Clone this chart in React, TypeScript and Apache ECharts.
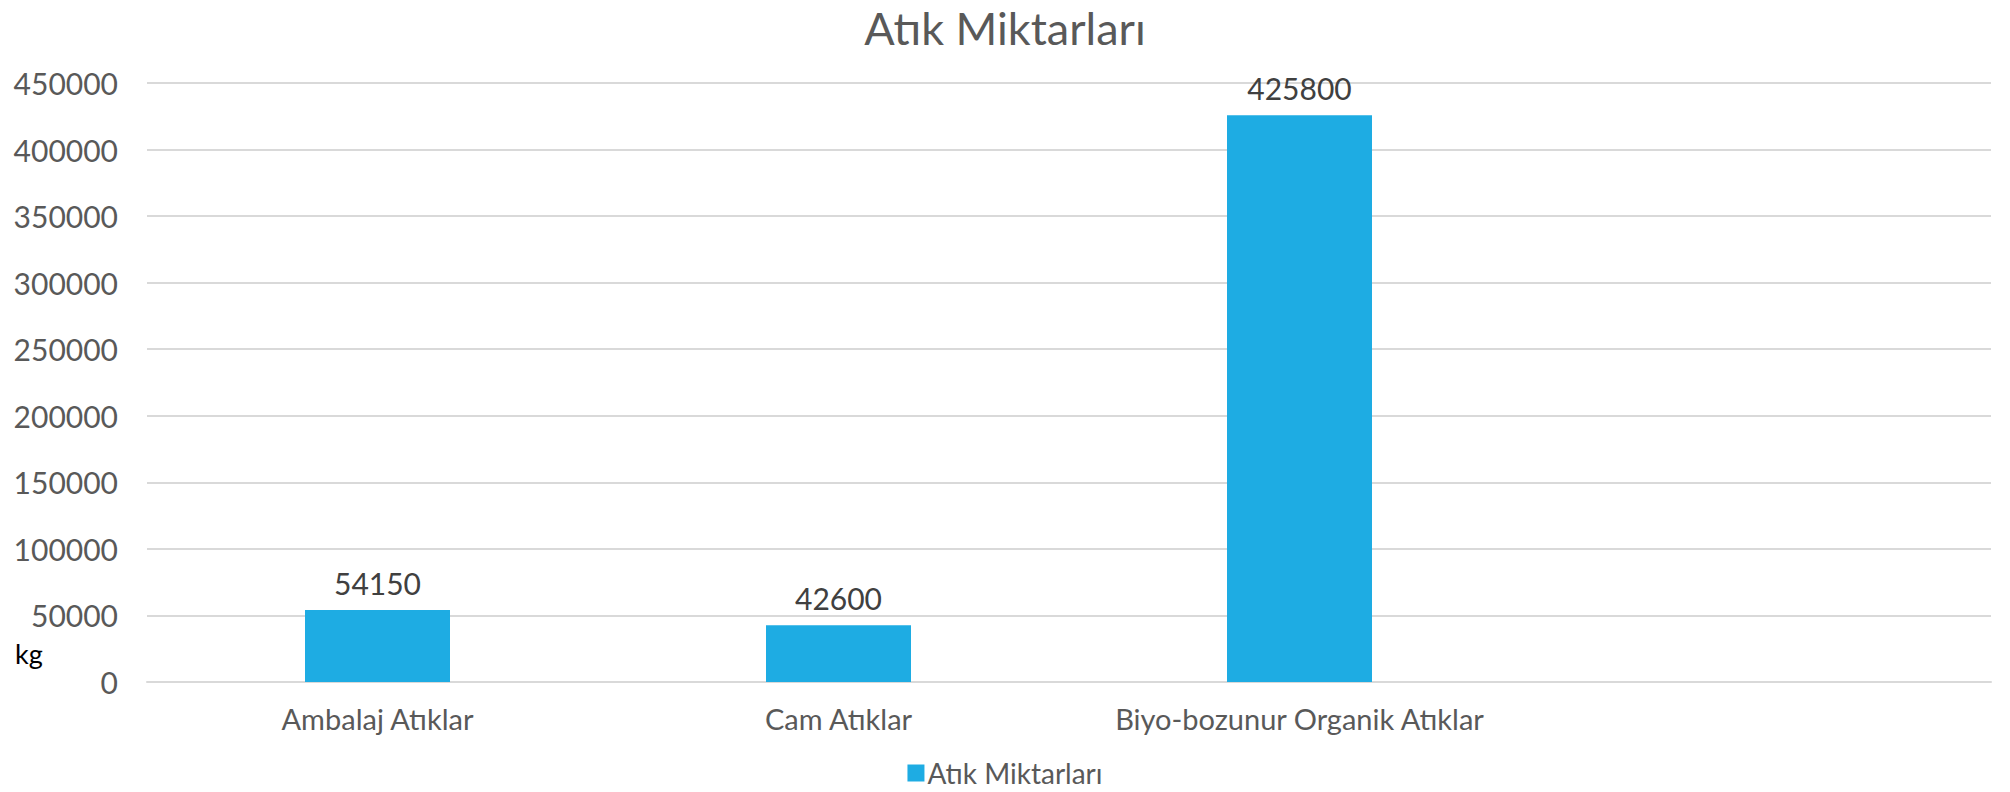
import React, { useEffect, useRef } from "react";
import * as echarts from "echarts";

const categories = ["Ambalaj Atıklar", "Cam Atıklar", "Biyo-bozunur Organik Atıklar", ""];
const values = [54150, 42600, 425800, null];
const seriesName = "Atık Miktarları";
const titleText = "Atık Miktarları";
const unitText = "kg";

const FONT = "Lato, 'Open Sans', sans-serif";
const GRAY = "#595959";

export default function App() {
  const ref = useRef<HTMLDivElement>(null);
  useEffect(() => {
    if (!ref.current) return;
    const chart = echarts.init(ref.current, null, { renderer: "svg" });
    chart.setOption({
      animation: false,
      backgroundColor: "#ffffff",
      textStyle: { fontFamily: FONT },
      title: {
        text: titleText,
        left: "center",
        top: 0,
        textStyle: { fontFamily: FONT, fontSize: 45, fontWeight: "normal", color: GRAY },
      },
      legend: {
        data: [seriesName],
        left: "center",
        top: 757,
        padding: 0,
        icon: "rect",
        itemWidth: 17,
        itemHeight: 17,
        itemGap: 6,
        textStyle: { fontFamily: FONT, fontSize: 28, lineHeight: 32, color: GRAY, padding: [0, 0, 0, -2] },
      },
      grid: { left: 147, right: 19, top: 83, bottom: 110, containLabel: false },
      xAxis: {
        type: "category",
        data: categories,
        axisTick: { show: false },
        axisLine: { show: true, lineStyle: { color: "#d9d9d9", width: 2 } },
        axisLabel: { fontFamily: FONT, fontSize: 29, color: GRAY, margin: 22, interval: 0 },
      },
      yAxis: {
        type: "value",
        min: 0,
        max: 450000,
        interval: 50000,
        axisLine: { show: false },
        axisTick: { show: false },
        axisLabel: {
          fontFamily: FONT,
          fontSize: 30,
          color: GRAY,
          margin: 29,
          formatter: (v: number) => String(v),
        },
        splitLine: { show: true, lineStyle: { color: "#d9d9d9", width: 2 } },
      },
      graphic: [
        {
          type: "text",
          left: 15,
          top: 640,
          style: { text: unitText, fontFamily: FONT, fontSize: 27, fill: "#000000" },
        },
      ],
      series: [
        {
          name: seriesName,
          type: "bar",
          data: values,
          barWidth: 145,
          itemStyle: { color: "#1EACE3" },
          label: {
            show: true,
            position: "top",
            distance: 12,
            fontFamily: FONT,
            fontSize: 30,
            color: "#404040",
          },
        },
      ],
    });
    return () => chart.dispose();
  }, []);
  return (
    <div
      ref={ref}
      style={{ position: "absolute", left: 0, top: 0, width: 2010, height: 792 }}
    />
  );
}
